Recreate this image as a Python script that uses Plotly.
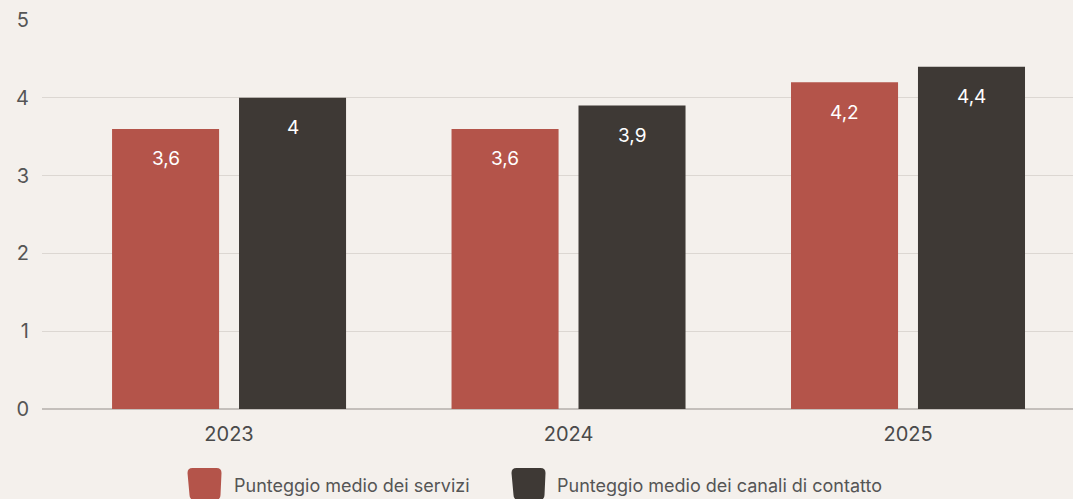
import plotly.graph_objects as go

years = ["2023", "2024", "2025"]
servizi = [3.6, 3.6, 4.2]
canali = [4.0, 3.9, 4.4]
servizi_labels = ["3,6", "3,6", "4,2"]
canali_labels = ["4", "3,9", "4,4"]
series_names = ["Punteggio medio dei servizi", "Punteggio medio dei canali di contatto"]
y_ticks = [0, 1, 2, 3, 4, 5]

RED = "#b4544a"
DARK = "#3e3935"
BG = "#f4f0ec"
FONT = "Inter, Roboto, sans-serif"

fig = go.Figure()
fig.add_trace(go.Bar(x=years, y=servizi, name=series_names[0], marker=dict(color=RED, line=dict(width=0)), showlegend=False, hoverinfo="y"))
fig.add_trace(go.Bar(x=years, y=canali, name=series_names[1], marker=dict(color=DARK, line=dict(width=0)), showlegend=False, hoverinfo="y"))

annotations = []
for i, (v, lab) in enumerate(zip(servizi, servizi_labels)):
    annotations.append(dict(x=i, y=v, xref="x", yref="y", text=lab, showarrow=False,
                            xshift=-63.5, yshift=-30, yanchor="middle",
                            font=dict(family=FONT, size=19, color="white")))
for i, (v, lab) in enumerate(zip(canali, canali_labels)):
    annotations.append(dict(x=i, y=v, xref="x", yref="y", text=lab, showarrow=False,
                            xshift=63.5, yshift=-30, yanchor="middle",
                            font=dict(family=FONT, size=19, color="white")))

# manual legend (rounded swatches)
W, H = 1073, 499
L, R, T, B = 42, 0, 20, 90
pw, ph = W - L - R, H - T - B
def px_x(px):
    return (px - L) / pw
def px_y(py):
    return (H - B - py) / ph

swatch_path = ("M -12,16 L 12,16 Q 17,16 17,11 L 16,-11 Q 16,-16 11,-16 "
               "L -10,-16 Q -15,-16 -15,-11 L -17,11 Q -17,16 -12,16 Z")
shapes = []
legend_items = [(RED, 204.5, 232, series_names[0]), (DARK, 528.5, 555, series_names[1])]
for col, sx, tx, name in legend_items:
    shapes.append(dict(type="path", xref="paper", yref="paper", xsizemode="pixel", ysizemode="pixel",
                       xanchor=px_x(sx), yanchor=px_y(484), path=swatch_path,
                       fillcolor=col, line=dict(width=0), layer="above"))
    annotations.append(dict(x=px_x(tx), y=px_y(485), xref="paper", yref="paper", text=name,
                            showarrow=False, xanchor="left", yanchor="middle",
                            font=dict(family=FONT, size=18, color="#555555")))

fig.update_layout(
    width=W, height=H,
    margin=dict(l=L, r=R, t=T, b=B, pad=0),
    paper_bgcolor=BG, plot_bgcolor=BG,
    barmode="group", bargap=0.252, bargroupgap=0.157,
    showlegend=False,
    font=dict(family=FONT, color="#555555"),
    annotations=annotations, shapes=shapes,
    xaxis=dict(type="category", range=[-0.551, 2.486], showgrid=False, ticks="",
               tickfont=dict(family=FONT, size=20, color="#4a4a4a"), ticklabelstandoff=11,
               showline=False, zeroline=False, fixedrange=True),
    yaxis=dict(range=[0, 5], tickvals=y_ticks, ticktext=[str(t) for t in y_ticks],
               showgrid=True, gridcolor="#dcd7d2", gridwidth=1,
               zeroline=True, zerolinecolor="#c4bfbb", zerolinewidth=1.5,
               ticks="", ticklabelstandoff=12,
               tickfont=dict(family=FONT, size=20, color="#555555"), fixedrange=True),
)

fig.write_html("out.html", config={"displayModeBar": False},
               post_script="document.body.style.margin='0';document.body.style.overflow='hidden';")
